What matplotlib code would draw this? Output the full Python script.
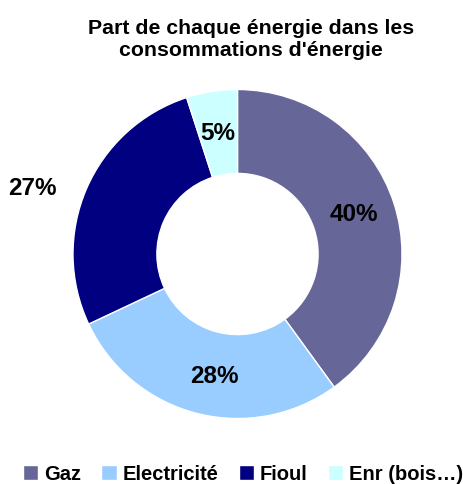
import numpy as np
import matplotlib.pyplot as plt

plt.rcParams['font.family'] = ['Liberation Sans', 'DejaVu Sans']

categories = ['Gaz', 'Electricité', 'Fioul', 'Enr (bois…)']
shares = [40, 28, 27, 5]
colors = ['#666699', '#99CCFF', '#000080', '#CCFFFF']
# label placement (angle in degrees, radius) picked to match the reference
label_pos = [(19, 0.75), (-101, 0.75), (162, 1.31), (99, 0.75)]

W, H = 463, 485
fig = plt.figure(figsize=(W / 100, H / 100), dpi=100)
cx, cy, r = 237.5, 255, 164.5
ax = fig.add_axes([(cx - r) / W, (H - cy - r) / H, 2 * r / W, 2 * r / H])

wedges, _ = ax.pie(shares, colors=colors, startangle=90, counterclock=False,
                   radius=1, wedgeprops=dict(width=0.51, edgecolor='white', linewidth=1))
ax.set_xlim(-1, 1)
ax.set_ylim(-1, 1)
ax.set_aspect('equal')
ax.axis('off')

for v, (ang, rad) in zip(shares, label_pos):
    a = np.deg2rad(ang)
    ax.text(rad * np.cos(a), rad * np.sin(a), f'{v}%', ha='center', va='center',
            fontsize=17.5, fontweight='bold', color='black', clip_on=False)

fig.text(251 / W, 1 - 40 / H, "Part de chaque énergie dans les\nconsommations d'énergie",
         ha='center', va='center', fontsize=15.3, fontweight='bold', linespacing=1.2)

fig.legend(wedges, categories, loc='center', bbox_to_anchor=(0.525, 1 - 475 / H),
           ncol=4, frameon=False, prop=dict(size=14.5, weight='bold'),
           handlelength=0.75, handleheight=0.75, handletextpad=0.3, columnspacing=1.0,
           borderpad=0.2)

fig.savefig('out.png', dpi=100)
